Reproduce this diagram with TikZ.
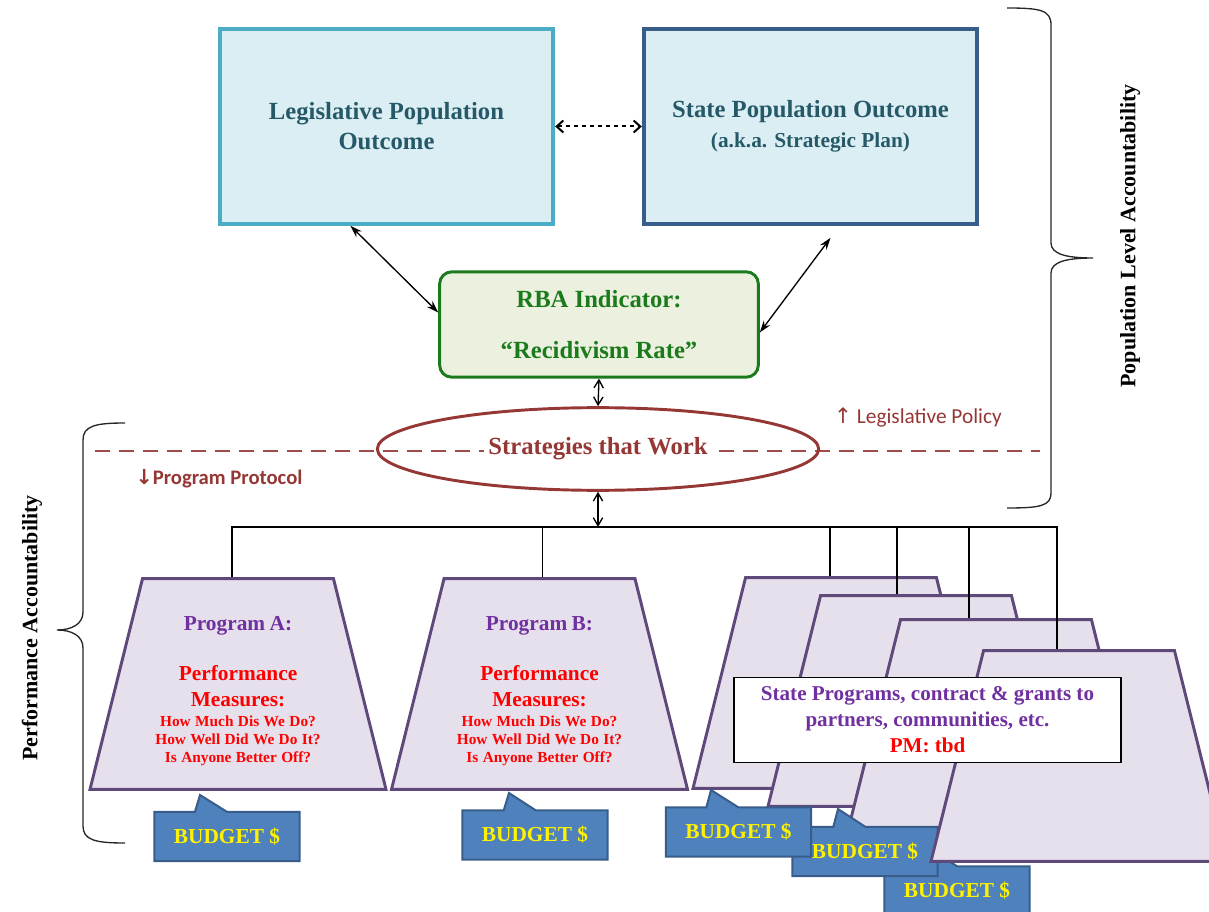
\documentclass[tikz,border=0pt]{standalone}
\usepackage{fontspec}
\setmainfont{Liberation Serif}
\newfontfamily\calfont{Carlito}
\newfontfamily\arrowfont{DejaVu Sans}
\usetikzlibrary{shapes.geometric,shapes.callouts,arrows.meta}
\definecolor{legline}{HTML}{4BACC6}
\definecolor{stateline}{HTML}{385D8A}
\definecolor{boxfill}{HTML}{DBEEF4}
\definecolor{boxtext}{HTML}{265968}
\definecolor{rbaline}{HTML}{1B7A1B}
\definecolor{rbafill}{HTML}{EBF1DE}
\definecolor{stratred}{HTML}{953735}
\definecolor{progline}{HTML}{5F497A}
\definecolor{progfill}{HTML}{E5E0EC}
\definecolor{progtext}{HTML}{7030A0}
\definecolor{budfill}{HTML}{4F81BD}
\definecolor{budline}{HTML}{385D8A}

\tikzset{
  outbox/.style={rectangle, fill=boxfill, line width=3pt, minimum width=250pt, minimum height=146pt,
    align=center, text=boxtext, font=\bfseries\fontsize{18.5}{22.5}\selectfont},
  rbabox/.style={rectangle, rounded corners=9pt, draw=rbaline, fill=rbafill, line width=2.2pt,
    minimum width=239pt, minimum height=79pt, align=center, text=rbaline,
    font=\bfseries\fontsize{18.5}{22.5}\selectfont},
  prog/.style={trapezium, trapezium left angle=76, trapezium right angle=76, trapezium stretches body=true,
    minimum width=222pt, draw=progline, fill=progfill, line width=2.2pt, inner sep=0pt,
    text width=135pt, text height=39pt, text depth=119pt, align=center, font=\bfseries},
  budget/.style={rectangle callout, callout pointer width=24pt, minimum width=109pt, minimum height=37pt,
    fill=budfill, draw=budline, line width=1.5pt, text=yellow, font=\bfseries\fontsize{16}{19}\selectfont},
  spbox/.style={rectangle, draw=black, fill=white, line width=1.2pt, minimum width=290pt,
    minimum height=64pt, align=center, font=\bfseries\fontsize{15.8}{19.5}\selectfont},
  sidelabel/.style={rotate=90, font=\bfseries\fontsize{16.5}{20}\selectfont},
  brace/.style={line width=1pt, black!85},
}

\newcommand{\progtxt}[1]{{\color{progtext}\fontsize{16}{19}\selectfont #1\par}\vspace{18.5pt}%
{\color{red}\fontsize{16}{19}\selectfont Performance\\Measures:\par}\vspace{1.5pt}%
{\color{red}\fontsize{11.5}{13.5}\selectfont How Much Dis We Do?\\How Well Did We Do It?\\Is Anyone Better Off?\par}}

\begin{document}
\begin{tikzpicture}[x=0.75pt, y=-0.75pt]
\useasboundingbox (0,0) rectangle (1209,912);
\clip (0,0) rectangle (1209,912);

\draw[stratred!90!white, line width=2pt, dash pattern=on 11pt off 7pt] (95,451) -- (1040,451);

\node[outbox, draw=legline] (leg) at (386.5,126.5) {Legislative Population\\Outcome};
\node[outbox, draw=stateline] (state) at (810.5,126.5) {State Population Outcome\\{\fontsize{16}{20}\selectfont(a.k.a. Strategic Plan)}};
\node[rbabox] (rba) at (599,324.5) {RBA Indicator:\\[16pt]“Recidivism Rate”};
\node[ellipse, draw=stratred, line width=2.2pt, minimum width=331pt, minimum height=62pt, inner sep=0pt,
  font=\bfseries\fontsize{18.5}{22.5}\selectfont] (strat) at (598,449) {\colorbox{white}{\color{stratred}Strategies that Work}};

\node[text=stratred, font=\calfont\fontsize{16}{19}\selectfont] (legpol) at (918,418) {{\arrowfont↑} Legislative Policy};
\node[text=stratred, font=\calfont\bfseries\fontsize{15.5}{19}\selectfont] (progpro) at (219,479) {{\arrowfont↓}Program Protocol};

\node[prog] (progA) at (238,684) {\progtxt{Program A:}};
\node[prog] (progB) at (539.5,684) {\progtxt{Program B:}};
\node[budget, callout absolute pointer={(200,795)}] (budA) at (227,836.5) {BUDGET \$};
\node[budget, callout absolute pointer={(509,793)}] (budB) at (535,835) {BUDGET \$};

\node[prog] (sp1) at (841,683) {};
\node[prog] (sp2) at (916,701) {};
\node[prog] (sp3) at (996,725) {};
\node[budget, callout absolute pointer={(930,849)}] (bud3) at (957,891) {BUDGET \$};
\node[budget, callout absolute pointer={(838,809)}] (bud2) at (865,851.5) {BUDGET \$};
\node[budget, callout absolute pointer={(711,790)}] (bud1) at (738.5,832) {BUDGET \$};
\node[prog] (sp4) at (1079,756) {};
\node[spbox] (spnote) at (927.5,720) {\textcolor{progtext}{State Programs, contract \& grants to}\\
  \textcolor{progtext}{partners, communities, etc.}\\\textcolor{red}{PM: tbd}};

\draw[dashed, line width=1.5pt, >={Straight Barb[length=5pt,width=9pt]}, <->] (leg.east) -- (state.west);
\draw[line width=1pt, >={Stealth[length=9pt,width=6pt]}, <->] ([xshift=-27pt]leg.south) -- ([yshift=9pt]rba.west);
\draw[line width=1pt, >={Stealth[length=9pt,width=6pt]}, <->] ([xshift=15pt,yshift=-9pt]state.south) -- ([yshift=-6pt]rba.east);
\draw[line width=1pt, >={Straight Barb[length=6pt,width=7pt]}, <->] (rba.south) -- (strat.north);

\coordinate (bus) at (598,527);
\draw[line width=1pt, >={Straight Barb[length=6pt,width=7pt]}, <->] (strat.south) -- (bus);
\foreach \n/\s in {progA/-4.5pt, progB/2pt, sp1/-8.25pt, sp2/-14.25pt, sp3/-20.25pt, sp4/-16.5pt}
  \draw[line width=1pt] ([xshift=\s]\n.north) |- (bus);

\draw[brace] (1007,8) .. controls (1040,8) and (1051,10) .. (1051,25) -- (1051,243)
  .. controls (1051,254) and (1066,258) .. (1093,258) .. controls (1066,258) and (1051,262) .. (1051,273)
  -- (1051,493) .. controls (1051,506) and (1040,508) .. (1007,508);
\draw[brace] (125,423) .. controls (95,423) and (83,426) .. (83,440) -- (83,612)
  .. controls (83,624) and (72,630) .. (57,630) .. controls (72,630) and (83,636) .. (83,648)
  -- (83,826) .. controls (83,840) and (95,843) .. (125,843);

\node[sidelabel] (poplabel) at (1130,236) {Population Level Accountability};
\node[sidelabel] (perflabel) at (32,628) {Performance Accountability};
\end{tikzpicture}
\end{document}
